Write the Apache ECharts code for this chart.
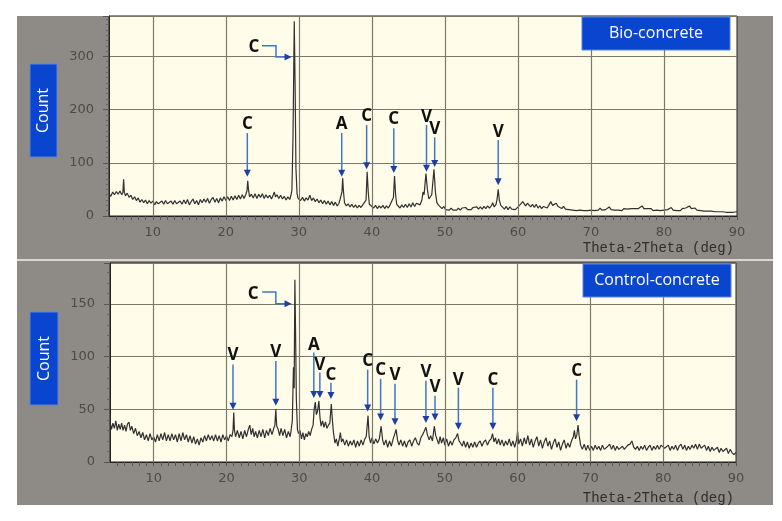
<!DOCTYPE html>
<html><head><meta charset="utf-8">
<script src="https://cdn.jsdelivr.net/npm/echarts@6/dist/echarts.min.js"></script>
<style>html,body{margin:0;padding:0;background:#fff}#c{width:782px;height:521px}</style>
</head><body><div id="c"></div><script>
// ---- data ----
const xTickLabels = [10,20,30,40,50,60,70,80,90];
const xGridLines = [10,20,30,40,50,60,70,80];
const xMinorTicks = [5,6,7,8,9,10,11,12,13,14,15,16,17,18,19,20,21,22,23,24,25,26,27,28,29,30,31,32,33,34,35,36,37,38,39,40,41,42,43,44,45,46,47,48,49,50,51,52,53,54,55,56,57,58,59,60,61,62,63,64,65,66,67,68,69,70,71,72,73,74,75,76,77,78,79,80,81,82,83,84,85,86,87,88,89,90];
const panelTitles = ['Bio-concrete','Control-concrete'];
const yAxisTitle = 'Count';
const xAxisTitle = 'Theta-2Theta (deg)';

const bioData = [[4,42],[4.25,37],[4.5,45],[4.75,40],[5,46],[5.25,41],[5.5,47],[5.75,40],[5.9,44],[6,69],[6.1,45],[6.25,38],[6.5,43],[6.75,35],[7,39],[7.25,31],[7.5,36],[7.75,29],[8,34],[8.25,26],[8.5,31],[8.75,25],[9,30],[9.25,23],[9.5,29],[9.75,24],[10,28],[10.25,21],[10.5,27],[10.75,23],[11,20],[11.25,28],[11.5,22],[11.75,29],[12,23],[12.25,20],[12.5,28],[12.75,22],[13,29],[13.25,23],[13.5,20],[13.75,28],[14,22],[14.25,30],[14.5,23],[14.75,31],[15,21],[15.25,27],[15.5,32],[15.75,23],[16,29],[16.25,21],[16.5,31],[16.75,25],[17,32],[17.25,26],[17.5,33],[17.75,24],[18,31],[18.25,35],[18.5,26],[18.75,33],[19,25],[19.25,34],[19.5,28],[19.75,36],[20,29],[20.25,36],[20.5,29],[20.75,37],[21,30],[21.25,38],[21.5,31],[21.75,39],[22,32],[22.25,40],[22.5,33],[22.75,41],[22.9,48],[23,66],[23.1,50],[23.25,36],[23.5,41],[23.75,34],[24,42],[24.25,33],[24.5,41],[24.75,35],[25,42],[25.25,33],[25.5,40],[25.75,34],[26,39],[26.25,32],[26.5,40],[26.65,45],[26.8,36],[27,40],[27.25,33],[27.5,39],[27.75,32],[28,37],[28.25,30],[28.5,36],[28.75,31],[28.9,38],[29.05,48],[29.2,150],[29.37,366],[29.5,230],[29.6,90],[29.75,42],[29.9,33],[30,36],[30.25,29],[30.5,35],[30.75,28],[31,34],[31.25,30],[31.5,39],[31.75,29],[32,34],[32.25,27],[32.5,32],[32.75,25],[33,30],[33.25,23],[33.5,29],[33.75,22],[34,28],[34.25,21],[34.5,27],[34.75,20],[35,26],[35.25,19],[35.5,24],[35.75,27],[35.9,45],[36,71],[36.1,48],[36.25,25],[36.5,19],[36.75,23],[37,17],[37.25,22],[37.5,16],[37.75,21],[38,15],[38.25,20],[38.5,16],[38.75,21],[39,18],[39.2,30],[39.35,83],[39.5,45],[39.65,22],[39.9,21],[40.25,15],[40.5,20],[40.75,14],[41,19],[41.25,15],[41.5,20],[41.75,14],[42,19],[42.25,15],[42.5,21],[42.75,18],[42.95,35],[43.1,75],[43.25,40],[43.4,22],[43.6,20],[43.85,15],[44.1,21],[44.35,16],[44.6,22],[44.85,16],[45.1,23],[45.35,17],[45.6,25],[45.85,18],[46.1,24],[46.35,27],[46.6,21],[46.85,30],[47,45],[47.15,40],[47.4,80],[47.6,50],[47.8,32],[48,30],[48.2,40],[48.5,88],[48.7,45],[48.9,25],[49.1,21],[49.35,20],[49.6,14],[49.85,18],[50.1,12],[50.35,15],[50.6,11],[50.85,15],[51.1,11],[51.35,14],[51.6,11],[51.85,15],[52.1,11],[52.35,15],[52.6,12],[52.85,16],[53.1,12],[53.35,15],[53.6,12],[53.85,16],[54.1,13],[54.35,17],[54.6,13],[54.85,17],[55.1,13],[55.35,18],[55.6,14],[55.85,19],[56.1,15],[56.35,19],[56.55,25],[56.75,17],[57,22],[57.15,32],[57.3,50],[57.45,30],[57.65,20],[57.9,18],[58.15,13],[58.4,18],[58.65,12],[58.9,17],[59.15,13],[59.4,16],[59.65,12],[59.9,15],[60.15,19],[60.4,22],[60.65,27],[60.85,28],[61.05,19],[61.3,24],[61.5,26],[61.75,17],[62,22],[62.25,16],[62.5,22],[62.75,15],[63,19],[63.25,14],[63.5,18],[63.75,21],[64,15],[64.25,21],[64.5,27],[64.75,20],[65,17],[65.25,24],[65.5,18],[65.75,20],[66,14],[66.25,18],[66.5,13],[66.75,16],[67,12],[67.25,15],[67.5,11],[67.75,14],[68,10],[68.25,13],[68.5,11],[68.75,13],[69,10],[69.25,13],[69.5,10],[69.75,13],[70,11],[70.25,14],[70.5,10],[70.75,13],[71,11],[71.25,15],[71.5,11],[71.75,14],[72,12],[72.25,15],[72.5,17],[72.75,12],[73,14],[73.25,11],[73.5,14],[73.75,11],[74,13],[74.25,10],[74.5,14],[74.75,11],[75,13],[75.25,10],[75.5,14],[75.75,12],[76,14],[76.25,11],[76.5,14],[76.75,15],[77,19],[77.25,14],[77.5,11],[77.75,14],[78,11],[78.25,14],[78.5,10],[78.75,13],[79,11],[79.25,14],[79.5,10],[79.75,13],[80,11],[80.25,14],[80.5,12],[80.75,15],[81,16],[81.25,11],[81.5,14],[81.75,10],[82,13],[82.25,10],[82.5,14],[82.75,11],[83,15],[83.25,16],[83.5,19],[83.75,14],[84,12],[84.25,15],[84.5,11],[84.75,13],[85,10],[85.25,12],[85.5,9],[85.75,12],[86,9],[86.25,12],[86.5,9],[86.75,11],[87,8],[87.25,11],[87.5,8],[87.75,10],[88,8],[88.25,10],[88.5,7],[88.75,9],[89,7],[89.25,9],[89.5,7],[89.75,9],[90,8]];

const ctlData = [[4,38],[4.2,31],[4.4,37],[4.6,32],[4.8,39],[5,30],[5.2,36],[5.4,31],[5.6,37],[5.8,30],[6,35],[6.2,29],[6.4,36],[6.6,38],[6.8,30],[7,34],[7.25,27],[7.5,32],[7.75,25],[8,29],[8.25,23],[8.5,28],[8.75,21],[9,26],[9.25,20],[9.5,27],[9.75,21],[10,24],[10.25,19],[10.5,26],[10.75,20],[11,27],[11.25,21],[11.5,28],[11.75,20],[12,26],[12.25,20],[12.5,27],[12.75,21],[13,26],[13.25,19],[13.5,27],[13.75,20],[14,28],[14.25,21],[14.5,26],[14.75,19],[15,25],[15.25,18],[15.5,24],[15.75,17],[16,22],[16.25,16],[16.5,23],[16.75,19],[17,25],[17.25,20],[17.5,26],[17.75,21],[18,25],[18.25,20],[18.5,26],[18.75,20],[19,25],[19.25,19],[19.5,26],[19.75,21],[20,25],[20.25,20],[20.5,26],[20.75,24],[20.9,30],[21,47],[21.1,30],[21.25,24],[21.5,30],[21.75,23],[22,29],[22.25,22],[22.5,30],[22.75,24],[23,31],[23.2,35],[23.4,26],[23.6,32],[23.8,24],[24,29],[24.25,23],[24.5,30],[24.75,24],[25,31],[25.25,23],[25.5,30],[25.75,25],[26,32],[26.25,26],[26.5,32],[26.65,35],[26.78,50],[26.9,34],[27.1,31],[27.3,25],[27.5,32],[27.75,25],[28,31],[28.25,23],[28.5,29],[28.75,24],[28.9,31],[29.05,40],[29.2,90],[29.3,70],[29.4,173],[29.5,120],[29.6,60],[29.75,31],[29.9,27],[30.1,30],[30.3,22],[30.5,28],[30.7,21],[30.9,27],[31.1,24],[31.3,29],[31.5,25],[31.7,31],[31.9,35],[32.05,50],[32.2,57],[32.35,45],[32.5,48],[32.7,58],[32.85,42],[33,34],[33.2,39],[33.4,33],[33.6,38],[33.8,32],[34,35],[34.2,37],[34.4,55],[34.55,40],[34.7,28],[34.9,18],[35.1,22],[35.3,15],[35.5,22],[35.65,28],[35.8,19],[36,22],[36.25,16],[36.5,21],[36.75,15],[37,20],[37.25,16],[37.5,21],[37.75,14],[38,20],[38.25,15],[38.5,21],[38.75,16],[39,22],[39.2,24],[39.45,44],[39.6,24],[39.8,18],[40,23],[40.25,17],[40.5,22],[40.75,18],[41,22],[41.25,34],[41.45,21],[41.65,16],[41.9,21],[42.15,14],[42.4,20],[42.65,15],[42.9,22],[43.1,26],[43.3,31],[43.5,21],[43.7,16],[43.95,21],[44.2,15],[44.45,20],[44.7,14],[44.95,19],[45.2,21],[45.45,15],[45.7,20],[45.95,23],[46.2,18],[46.45,16],[46.7,23],[46.95,26],[47.15,29],[47.4,33],[47.6,26],[47.85,21],[48.05,25],[48.3,20],[48.55,34],[48.75,25],[48.95,21],[49.15,17],[49.35,24],[49.55,18],[49.8,23],[50,16],[50.25,22],[50.5,15],[50.75,20],[51,16],[51.25,21],[51.5,23],[51.75,27],[51.95,20],[52.15,18],[52.4,15],[52.6,20],[52.85,14],[53.1,19],[53.35,13],[53.6,18],[53.85,14],[54.1,19],[54.35,14],[54.6,18],[54.85,20],[55.1,15],[55.35,19],[55.6,21],[55.85,16],[56.1,20],[56.35,22],[56.55,27],[56.75,19],[56.95,23],[57.15,17],[57.4,22],[57.6,16],[57.85,21],[58.1,15],[58.35,20],[58.6,16],[58.85,22],[59.1,15],[59.35,20],[59.6,14],[59.85,21],[60,29],[60.15,17],[60.4,22],[60.65,15],[60.9,23],[61.15,17],[61.4,25],[61.65,16],[61.9,22],[62.15,14],[62.4,20],[62.65,24],[62.9,15],[63.15,21],[63.4,13],[63.65,19],[63.9,23],[64.15,15],[64.4,20],[64.65,12],[64.9,18],[65.15,22],[65.4,14],[65.65,19],[65.9,11],[66.15,17],[66.4,21],[66.65,13],[66.9,18],[67.15,14],[67.4,20],[67.65,24],[67.8,30],[67.95,22],[68.15,26],[68.3,35],[68.45,25],[68.65,16],[68.9,12],[69.15,17],[69.4,11],[69.65,16],[69.9,11],[70.15,15],[70.4,11],[70.65,16],[70.9,12],[71.15,15],[71.4,11],[71.65,16],[71.9,12],[72.15,11],[72.4,15],[72.65,17],[72.9,12],[73.15,16],[73.4,11],[73.65,15],[73.9,12],[74.15,11],[74.4,15],[74.65,12],[74.9,11],[75.15,16],[75.45,17],[75.7,20],[75.95,14],[76.2,12],[76.45,15],[76.7,11],[76.95,15],[77.2,12],[77.45,16],[77.7,11],[77.95,14],[78.2,16],[78.45,11],[78.7,15],[78.95,12],[79.2,16],[79.45,12],[79.7,16],[79.95,17],[80.2,13],[80.45,12],[80.7,16],[80.95,11],[81.2,15],[81.45,12],[81.7,16],[81.95,11],[82.2,15],[82.45,17],[82.7,12],[82.95,16],[83.2,11],[83.45,15],[83.7,12],[83.95,16],[84.2,13],[84.45,17],[84.7,12],[84.95,17],[85.2,13],[85.45,12],[85.7,16],[85.95,11],[86.2,15],[86.45,10],[86.7,14],[86.95,11],[87.2,10],[87.45,14],[87.7,9],[87.95,13],[88.2,10],[88.45,9],[88.7,13],[88.95,8],[89.2,12],[89.45,9],[89.7,7],[90,9]];

// peak annotations: [label, 2theta, labelCount, arrowTopCount, arrowTipCount]
const bioPeaks = [
  ['C',22.94,172,156,74],
  ['A',35.87,172,156,74],
  ['C',39.28,188,171,88],
  ['C',43.0,183,165,81],
  ['V',47.48,186,171,83],
  ['V',48.6,163,148,92],
  ['V',57.3,158,143,58]
];
const ctlPeaks = [
  ['V',20.9,101,92.5,49.7],
  ['V',26.78,104.5,96,53.5],
  ['A',32.0,111.4,104,60.8],
  ['V',32.83,92.4,85,60.8],
  ['C',34.35,82.9,75.3,59.8],
  ['C',39.4,95.5,87.7,48],
  ['C',41.18,87,79,39.5],
  ['V',43.15,82.2,74.4,34.8],
  ['V',47.4,85.5,77.2,37],
  ['V',48.65,70.8,63,39.5],
  ['V',51.86,78.2,70.6,30.7],
  ['C',56.6,78.2,70.6,30.7],
  ['C',68.1,86,78.2,38.6]
];
// main calcite peak bent arrows: label position then path points
const bioMainLabel = ['C',23.86,317];
const bioMainPath = [[24.95,320],[26.87,320],[26.87,299],[29.0,299]];
const ctlMainLabel = ['C',23.66,159.8];
const ctlMainPath = [[24.9,161.4],[26.78,161.4],[26.78,150.3],[28.94,150.3]];

// ---- chart ----
const chart = echarts.init(document.getElementById('c'), null, {renderer:'canvas'});
const gridLineColor = '#7b786c';
function xAxisCfg(g){
  return {type:'value', gridIndex:g, min:4, max:90,
    axisLine:{show:true, onZero:false, lineStyle:{color:'#222', width:1}},
    axisTick:{show:true, customValues:xMinorTicks, length:4, lineStyle:{color:'#555'}},
    axisLabel:{customValues:xTickLabels, color:'#4a4a4a', fontFamily:'DejaVu Sans', fontSize:13, margin:10},
    splitLine:{show:false}};
}
function yAxisCfg(g, max, interval, minorSplit){
  return {type:'value', gridIndex:g, min:0, max:max, interval:interval,
    axisLine:{show:true, lineStyle:{color:'#222', width:1}},
    axisTick:{show:true, length:6, lineStyle:{color:'#555'}},
    minorTick:{show:true, splitNumber:minorSplit, length:3, lineStyle:{color:'#666'}},
    axisLabel:{color:'#4a4a4a', fontFamily:'DejaVu Sans', fontSize:13, margin:15, showMaxLabel:false},
    splitLine:{show:true, lineStyle:{color:gridLineColor, width:1.2}}};
}
function gridLinesSeries(g){
  return {type:'line', xAxisIndex:g, yAxisIndex:g, data:[], z:1, silent:true,
    markLine:{silent:true, symbol:['none','none'], label:{show:false}, animation:false,
      lineStyle:{color:gridLineColor, width:1.2, type:'solid'},
      data: xGridLines.map(v=>({xAxis:v}))}};
}
chart.setOption({
  animation:false,
  grid:[
    {left:109, top:16, width:628, height:200, show:true, backgroundColor:'#fffcea', borderColor:'#222', borderWidth:1},
    {left:110, top:263, width:626, height:199, show:true, backgroundColor:'#fffcea', borderColor:'#222', borderWidth:1}
  ],
  xAxis:[xAxisCfg(0), xAxisCfg(1)],
  yAxis:[yAxisCfg(0,376,100,10), yAxisCfg(1,189,50,5)],
  series:[
    gridLinesSeries(0), gridLinesSeries(1),
    {type:'line', xAxisIndex:0, yAxisIndex:0, data:bioData, showSymbol:false, z:3,
      lineStyle:{color:'#303030', width:1.2}},
    {type:'line', xAxisIndex:1, yAxisIndex:1, data:ctlData, showSymbol:false, z:3,
      lineStyle:{color:'#303030', width:1.2}}
  ]
});

const arrowLine = '#3f76cc', arrowHead = '#1c3ea6';
const letterFont = 'bold 17px "Open Sans"';
function P(g, x, y){ return chart.convertToPixel({gridIndex:g}, [x,y]); }
const els = [];
// panel backgrounds
els.push({type:'rect', z:-100, shape:{x:17,y:16,width:756,height:243}, style:{fill:'#8e8b86'}});
els.push({type:'rect', z:-100, shape:{x:17,y:259,width:756,height:2}, style:{fill:'#dad7d0'}});
els.push({type:'rect', z:-100, shape:{x:17,y:261,width:756,height:244}, style:{fill:'#8e8b86'}});
// y-axis title boxes
[[30,64,27,93],[30,312,28,93]].forEach(b=>{
  els.push({type:'rect', z:50, shape:{x:b[0],y:b[1],width:b[2],height:b[3]}, style:{fill:'#0a45cf', stroke:'#5a84dc', lineWidth:1}});
  els.push({type:'text', z:51, x:b[0]+b[2]/2, y:b[1]+b[3]/2, rotation:Math.PI/2,
    style:{text:yAxisTitle, fill:'#fff', font:'16px "Open Sans"', align:'center', verticalAlign:'middle'}});
});
// panel title boxes
[[582,17,148,33],[583,264,148,33]].forEach((b,i)=>{
  els.push({type:'rect', z:50, shape:{x:b[0],y:b[1],width:b[2],height:b[3]}, style:{fill:'#0a45cf', stroke:'#5a84dc', lineWidth:1}});
  els.push({type:'text', z:51, x:b[0]+b[2]/2, y:b[1]+b[3]/2,
    style:{text:panelTitles[i], fill:'#fff', font:'16px "Open Sans"', align:'center', verticalAlign:'middle'}});
});
// x axis titles
[248,498].forEach(y=>{
  els.push({type:'text', z:51, x:734, y:y, style:{text:xAxisTitle, fill:'#2e2e2e', font:'14px "Liberation Mono"', align:'right', verticalAlign:'middle'}});
});
function addPeaks(g, peaks){
  peaks.forEach(p=>{
    const lp = P(g,p[1],p[2]), tp = P(g,p[1],p[3]), ip = P(g,p[1],p[4]);
    els.push({type:'text', z:60, x:lp[0], y:lp[1], style:{text:p[0], font:letterFont, fill:'#111', align:'center', verticalAlign:'middle'}});
    els.push({type:'line', z:60, shape:{x1:tp[0],y1:tp[1],x2:ip[0],y2:ip[1]-5}, style:{stroke:arrowLine, lineWidth:1.5}});
    els.push({type:'polygon', z:61, shape:{points:[[ip[0]-3.5,ip[1]-7],[ip[0]+3.5,ip[1]-7],[ip[0],ip[1]]]}, style:{fill:arrowHead}});
  });
}
function addMain(g, lab, path){
  const lp = P(g, lab[1], lab[2]);
  els.push({type:'text', z:60, x:lp[0], y:lp[1], style:{text:lab[0], font:letterFont, fill:'#111', align:'center', verticalAlign:'middle'}});
  const pts = path.map(q=>P(g,q[0],q[1]));
  const last = pts[pts.length-1];
  const linePts = pts.slice(0,-1).concat([[last[0]-5,last[1]]]);
  els.push({type:'polyline', z:60, shape:{points:linePts}, style:{stroke:arrowLine, lineWidth:1.5, fill:null}});
  els.push({type:'polygon', z:61, shape:{points:[[last[0]-7,last[1]-3.5],[last[0]-7,last[1]+3.5],[last[0],last[1]]]}, style:{fill:arrowHead}});
}
addPeaks(0, bioPeaks); addPeaks(1, ctlPeaks);
addMain(0, bioMainLabel, bioMainPath); addMain(1, ctlMainLabel, ctlMainPath);
chart.setOption({graphic:{elements:els}});
</script></body></html>
